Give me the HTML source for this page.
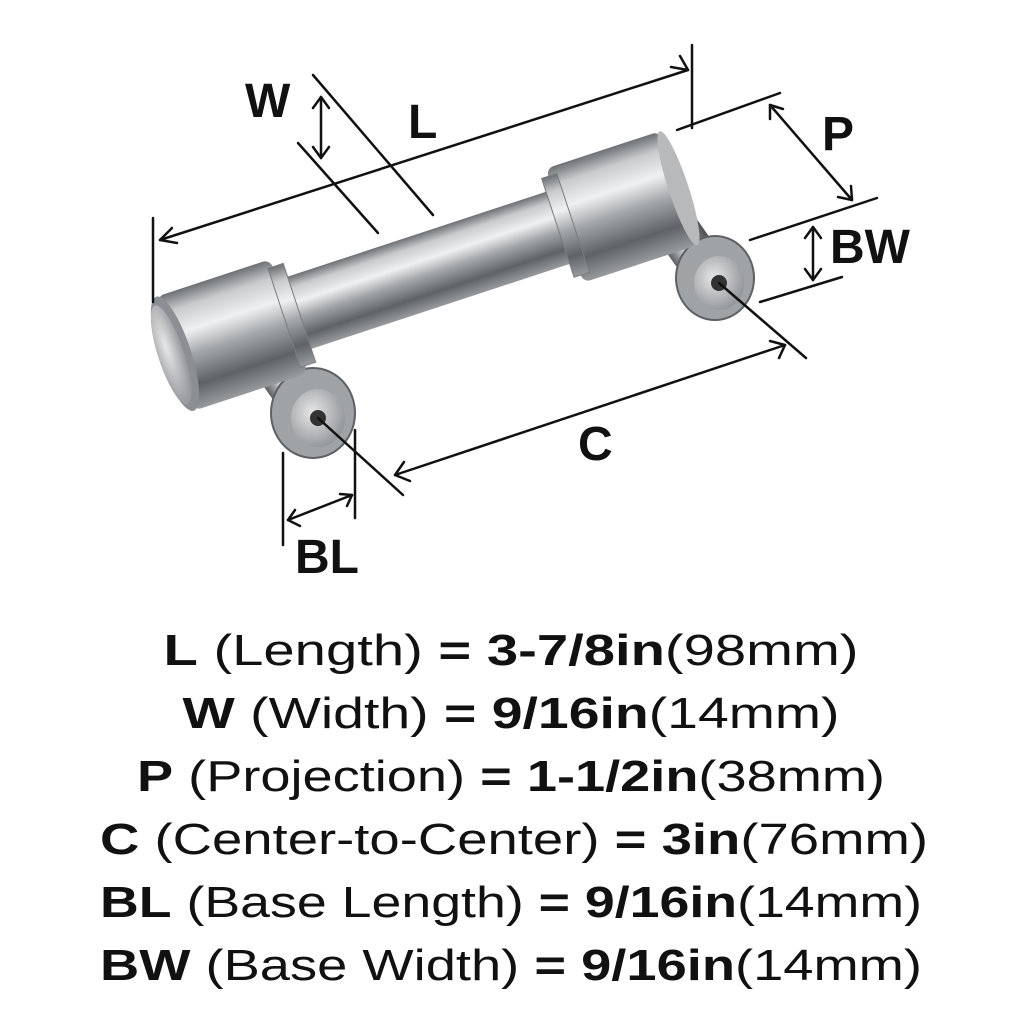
<!DOCTYPE html>
<html><head><meta charset="utf-8"><style>
html,body{margin:0;padding:0;background:#fff;}
svg{display:block}
text{font-family:"Liberation Sans",sans-serif;fill:#111;}
</style></head><body>
<svg width="1024" height="1024" viewBox="0 0 1024 1024">
<defs>
<linearGradient id="m" x1="0" y1="0" x2="0" y2="1">
<stop offset="0" stop-color="#6d7074"/><stop offset="0.15" stop-color="#c8cacc"/><stop offset="0.35" stop-color="#eff0f1"/><stop offset="0.55" stop-color="#a3a6a9"/><stop offset="0.8" stop-color="#5f6266"/><stop offset="1" stop-color="#989b9e"/>
</linearGradient>
<linearGradient id="p" x1="0" y1="0" x2="1" y2="0">
<stop offset="0" stop-color="#5c5f63"/><stop offset="0.4" stop-color="#e0e1e2"/><stop offset="0.7" stop-color="#7e8185"/><stop offset="1" stop-color="#4d5054"/>
</linearGradient>
<radialGradient id="f" cx="0.4" cy="0.4" r="0.7"><stop offset="0" stop-color="#e6e7e8"/><stop offset="1" stop-color="#8a8d91"/></radialGradient>
</defs>

<!-- posts -->
<g transform="translate(272,360) rotate(-35)"><rect x="-22" y="0" width="44" height="68" fill="url(#p)"/></g>
<g transform="translate(672,222) rotate(-35)"><rect x="-22" y="0" width="44" height="68" fill="url(#p)"/></g>
<ellipse cx="313" cy="413" rx="42" ry="45" fill="#a0a3a6" stroke="#5d6064" stroke-width="2"/>
<ellipse cx="318" cy="418" rx="27" ry="29" fill="url(#f)"/>
<circle cx="318" cy="418" r="8" fill="#333"/>
<ellipse cx="715" cy="278" rx="39" ry="42" fill="#a0a3a6" stroke="#5d6064" stroke-width="2"/>
<ellipse cx="719" cy="283" rx="25" ry="27" fill="url(#f)"/>
<circle cx="719" cy="283" r="8" fill="#333"/>

<!-- bar -->
<g transform="translate(232,335) rotate(-18.2)">
<rect x="60" y="-38" width="300" height="76" fill="url(#m)"/>
<rect x="350" y="-60" width="120" height="120" rx="8" fill="url(#m)"/>
<rect x="343" y="-52" width="16" height="104" fill="url(#m)" stroke="#7a7d80"/>
<rect x="-60" y="-60" width="120" height="120" rx="8" fill="url(#m)"/>
<rect x="55" y="-52" width="16" height="104" fill="url(#m)" stroke="#7a7d80"/>
<ellipse cx="-60" cy="0" rx="16" ry="60" fill="#8b8e92"/>
<ellipse cx="-64" cy="0" rx="13" ry="52" fill="url(#f)"/>
<ellipse cx="470" cy="0" rx="10" ry="60" fill="#b7b9bb"/>
</g>

<g stroke="#111" stroke-width="2.5" fill="none" stroke-linecap="round" stroke-linejoin="round">
<line x1="153" y1="218" x2="153" y2="302"/><line x1="692" y1="45" x2="692" y2="128"/>
<line x1="160" y1="240" x2="688" y2="70"/>
<polyline points="172,228 160,240 177,243"/><polyline points="671,67 688,70 680,56"/>
<line x1="313" y1="75" x2="433" y2="215"/><line x1="298" y1="143" x2="378" y2="233"/>
<line x1="321" y1="97" x2="321" y2="158"/>
<polyline points="313,108 321,97 329,108"/><polyline points="313,147 321,158 329,147"/>
<line x1="677" y1="130" x2="780" y2="93"/><line x1="750" y1="240" x2="877" y2="198"/>
<line x1="770" y1="105" x2="852" y2="200"/>
<polyline points="770,119 770,105 783,109"/><polyline points="838,197 852,200 851,186"/>
<line x1="760" y1="302" x2="842" y2="277"/>
<line x1="813" y1="227" x2="813" y2="280"/>
<polyline points="805,238 813,227 821,238"/><polyline points="805,269 813,280 821,269"/>
<line x1="318" y1="418" x2="403" y2="495"/><line x1="719" y1="283" x2="806" y2="358"/>
<line x1="395" y1="475" x2="785" y2="345"/>
<polyline points="404,462 395,475 410,481"/><polyline points="770,341 785,345 779,358"/>
<line x1="283" y1="453" x2="283" y2="545"/><line x1="355" y1="430" x2="355" y2="518"/>
<line x1="288" y1="520" x2="352" y2="495"/>
<polyline points="295,510 288,520 300,526"/><polyline points="340,494 352,495 347,506"/>
</g>

<g font-weight="bold" font-size="48">
<text x="245" y="117">W</text>
<text x="408" y="138">L</text>
<text x="822" y="150">P</text>
<text x="830" y="263">BW</text>
<text x="578" y="460">C</text>
<text x="295" y="573">BL</text>
</g>

<g font-size="44" text-anchor="middle">
<text x="511" y="665" textLength="695" lengthAdjust="spacingAndGlyphs"><tspan font-weight="bold">L</tspan> (Length) <tspan font-weight="bold">= 3-7/8in</tspan>(98mm)</text>
<text x="511" y="728" textLength="657" lengthAdjust="spacingAndGlyphs"><tspan font-weight="bold">W</tspan> (Width) <tspan font-weight="bold">= 9/16in</tspan>(14mm)</text>
<text x="511" y="791" textLength="748" lengthAdjust="spacingAndGlyphs"><tspan font-weight="bold">P</tspan> (Projection) <tspan font-weight="bold">= 1-1/2in</tspan>(38mm)</text>
<text x="514" y="854" textLength="828" lengthAdjust="spacingAndGlyphs"><tspan font-weight="bold">C</tspan> (Center-to-Center) <tspan font-weight="bold">= 3in</tspan>(76mm)</text>
<text x="511" y="917" textLength="822" lengthAdjust="spacingAndGlyphs"><tspan font-weight="bold">BL</tspan> (Base Length) <tspan font-weight="bold">= 9/16in</tspan>(14mm)</text>
<text x="511" y="980" textLength="822" lengthAdjust="spacingAndGlyphs"><tspan font-weight="bold">BW</tspan> (Base Width) <tspan font-weight="bold">= 9/16in</tspan>(14mm)</text>
</g>
</svg>
</body></html>
